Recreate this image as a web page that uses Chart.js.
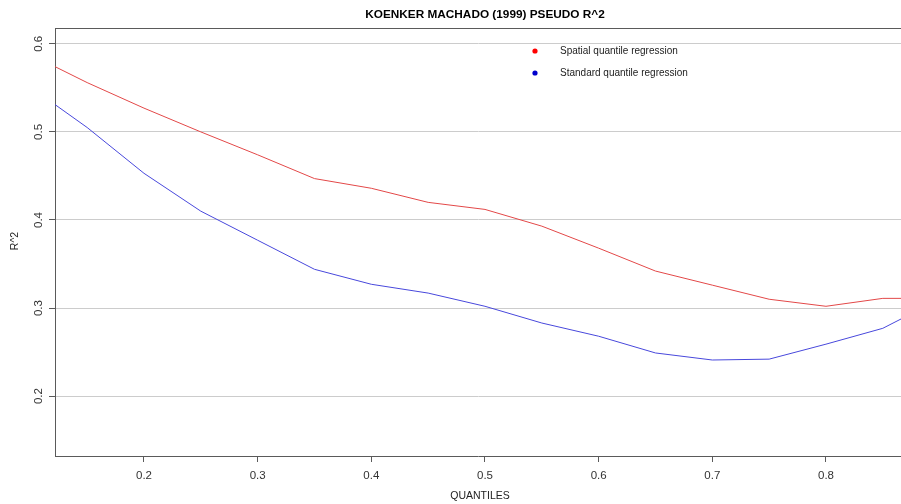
<!DOCTYPE html>
<html>
<head>
<meta charset="utf-8">
<script src="https://cdn.jsdelivr.net/npm/chart.js@4/dist/chart.umd.min.js"></script>
<style>
  html, body { margin: 0; padding: 0; background: #fff; }
  #wrap { width: 901px; height: 504px; position: relative; }
</style>
</head>
<body>
<div id="wrap"><canvas id="pseudoR2"></canvas></div>
<script>
(function(){
  'use strict';

  // values
  const quantiles = [0.10, 0.15, 0.20, 0.25, 0.30, 0.35, 0.40, 0.45, 0.50, 0.55, 0.60, 0.65, 0.70, 0.75, 0.80, 0.85, 0.90];
  const spatialR2 = [0.588, 0.556, 0.527, 0.500, 0.474, 0.447, 0.436, 0.420, 0.412, 0.393, 0.368, 0.342, 0.326, 0.310, 0.302, 0.311, 0.311];
  const standardR2 = [0.551, 0.505, 0.453, 0.410, 0.377, 0.344, 0.327, 0.317, 0.302, 0.283, 0.268, 0.249, 0.241, 0.242, 0.259, 0.277, 0.310];
  const xTicks = [0.2, 0.3, 0.4, 0.5, 0.6, 0.7, 0.8];
  const yTicks = [0.2, 0.3, 0.4, 0.5, 0.6];
  const seriesNames = ['Spatial quantile regression', 'Standard quantile regression'];

  const FONT = '"Liberation Sans", Arial, sans-serif';
  const AXIS = '#5a5a5a';

  function pts(ys){ return quantiles.map((q,i)=>({x:q, y:ys[i]})); }

  // titles, rotated y labels, top frame and legend
  const extras = {
    id: 'extras',
    afterDraw(chart){
      const ctx = chart.ctx, area = chart.chartArea, ys = chart.scales.y;
      ctx.save();
      ctx.strokeStyle = AXIS; ctx.lineWidth = 1;
      ctx.beginPath(); ctx.moveTo(area.left, area.top + 0.5); ctx.lineTo(area.right, area.top + 0.5); ctx.stroke();

      ctx.fillStyle = '#000';
      ctx.textAlign = 'center'; ctx.textBaseline = 'middle';
      ctx.font = 'bold 11.8px ' + FONT;
      ctx.fillText('KOENKER MACHADO (1999) PSEUDO R^2', 485, 15);
      ctx.font = '10.5px ' + FONT;
      ctx.fillStyle = '#222';
      ctx.fillText('QUANTILES', 480, 496);

      ctx.font = '11.5px ' + FONT;
      ctx.fillStyle = '#333';
      ys.ticks.forEach(t=>{
        const py = ys.getPixelForValue(t.value);
        ctx.save(); ctx.translate(39, py); ctx.rotate(-Math.PI/2);
        ctx.fillText(String(t.value), 0, 0); ctx.restore();
      });
      ctx.font = '10.5px ' + FONT;
      ctx.fillStyle = '#222';
      ctx.save(); ctx.translate(15, 241); ctx.rotate(-Math.PI/2);
      ctx.fillText('R^2', 0, 0); ctx.restore();

      const dots = ['#ff0000', '#0000cc'];
      ctx.font = '10px ' + FONT; ctx.textAlign = 'left';
      seriesNames.forEach((name,i)=>{
        const cy = 51 + i*22;
        ctx.fillStyle = dots[i];
        ctx.beginPath(); ctx.arc(535, cy, 2.6, 0, Math.PI*2); ctx.fill();
        ctx.fillStyle = '#222';
        ctx.fillText(name, 560, cy);
      });
      ctx.restore();
    }
  };

  new Chart(document.getElementById('pseudoR2'), {
    type: 'line',
    data: {
      datasets: [
        { label: seriesNames[0], data: pts(spatialR2), borderColor: '#e34848', borderWidth: 1, pointRadius: 0, tension: 0, fill: false },
        { label: seriesNames[1], data: pts(standardR2), borderColor: '#4848dc', borderWidth: 1, pointRadius: 0, tension: 0, fill: false }
      ]
    },
    options: {
      responsive: true, maintainAspectRatio: false, animation: false,
      layout: { padding: { top: 28, left: 0, right: 0, bottom: 0 } },
      plugins: { legend: { display: false }, tooltip: { enabled: false }, title: { display: false } },
      scales: {
        x: {
          type: 'linear', min: 0.1217, max: 0.866,
          afterBuildTicks: s => { s.ticks = xTicks.map(v=>({value:v})); },
          afterFit: s => { s.height = 48; },
          grid: { drawOnChartArea: false, drawTicks: true, tickLength: 6, color: AXIS, tickColor: AXIS },
          border: { color: AXIS, width: 1 },
          ticks: { padding: 7, color: '#333', font: { family: FONT, size: 11.5 }, maxRotation: 0, autoSkip: false, callback: v => String(v) }
        },
        y: {
          type: 'linear', min: 0.132, max: 0.618,
          afterBuildTicks: s => { s.ticks = yTicks.map(v=>({value:v})); },
          afterFit: s => { s.width = 55; },
          grid: { color: '#cccccc', tickColor: AXIS, tickLength: 6, drawTicks: true },
          border: { color: AXIS, width: 1 },
          ticks: { display: false }
        }
      }
    },
    plugins: [extras]
  });
})();
</script>
</body>
</html>
